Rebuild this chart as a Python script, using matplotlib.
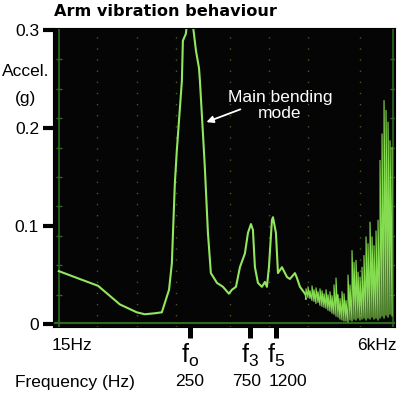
import matplotlib.pyplot as plt
import numpy as np
from matplotlib import transforms
from matplotlib.ticker import NullLocator

plt.rcParams['font.family'] = ['Liberation Sans', 'DejaVu Sans']

# trace: frequency (Hz) vs acceleration (g)
freq_main = [23, 47, 70, 95, 110, 132, 150, 171, 180, 190, 197, 216, 220, 232,
             250, 269, 279, 295, 300, 317, 328, 347, 366, 409, 456, 508, 537,
             578, 621, 680, 719, 759, 787, 816, 862, 927, 979, 1015, 1053,
             1112, 1133, 1196, 1241, 1334, 1462, 1543, 1690, 1753, 1852, 2029]
accel_main = [0.054, 0.039, 0.020, 0.012, 0.010, 0.011, 0.012, 0.035, 0.062,
              0.143, 0.177, 0.248, 0.289, 0.296, 0.330, 0.296, 0.279, 0.261,
              0.248, 0.194, 0.160, 0.093, 0.052, 0.042, 0.038, 0.031, 0.035,
              0.038, 0.058, 0.072, 0.093, 0.102, 0.096, 0.058, 0.042, 0.038,
              0.043, 0.038, 0.058, 0.106, 0.109, 0.093, 0.052, 0.058, 0.048,
              0.046, 0.052, 0.047, 0.038, 0.031]

# high frequency comb (each bin: peak and trough)
freq_hf = [2066, 2143, 2222, 2305, 2390, 2479, 2571, 2666, 2765, 2868, 2974,
           3084, 3199, 3317, 3440, 3568, 3700, 3837, 3980, 4127, 4280, 4439,
           4604, 4775, 4952, 5135, 5326, 5523, 5728, 5940, 6161, 6389, 6626,
           6872, 7127, 7391, 7665, 7950, 8244, 8550, 8867, 9196, 9537, 9891]
accel_hf_peak = [0.036, 0.038, 0.034, 0.039, 0.035, 0.037, 0.033, 0.036, 0.034,
                 0.031, 0.035, 0.030, 0.033, 0.029, 0.040, 0.047, 0.030, 0.026,
                 0.033, 0.031, 0.024, 0.050, 0.040, 0.075, 0.063, 0.065, 0.053,
                 0.048, 0.058, 0.070, 0.089, 0.082, 0.104, 0.089, 0.080, 0.095,
                 0.106, 0.167, 0.194, 0.228, 0.218, 0.206, 0.187, 0.180]
accel_hf_trough = [0.025, 0.027, 0.026, 0.024, 0.023, 0.021, 0.022, 0.019, 0.018,
                   0.017, 0.016, 0.014, 0.013, 0.011, 0.010, 0.008, 0.007, 0.005,
                   0.004, 0.003, 0.003, 0.002, 0.004, 0.003, 0.005, 0.004, 0.006,
                   0.004, 0.005, 0.006, 0.004, 0.006, 0.005, 0.007, 0.005, 0.006,
                   0.004, 0.006, 0.008, 0.006, 0.009, 0.007, 0.010, 0.008]

mode_freqs = [250, 750, 1200]
mode_ticks = [r'f$_\mathregular{o}$', r'f$_\mathregular{3}$', r'f$_\mathregular{5}$']
mode_labels = ['250', '750', '1200']
y_ticks = [0, 0.1, 0.2, 0.3]
y_ticklabels = ['0', '0.1', '0.2', '0.3']
grid_freqs = [46, 95, 193, 515, 1050, 2150, 5500]
div_levels = [0.03, 0.06, 0.09, 0.12, 0.15, 0.18, 0.21, 0.24, 0.27]

trace_green = '#93e660'
frame_green = '#2c6a20'

hf_x = [freq_main[-1]] + list(np.repeat(freq_hf, 2))
hf_y = [accel_main[-1]] + list(np.column_stack([accel_hf_trough, accel_hf_peak]).ravel())

fig = plt.figure(figsize=(4, 3.97), dpi=100)
ax = fig.add_axes([0.1325, 0.1763, 0.855, 0.7532])
ax.set_facecolor('#050505')
ax.set_xscale('log')
ax.set_xlim(20.7, 10440)
ax.set_ylim(-0.003, 0.302)
for s in ax.spines.values():
    s.set_color('black')

# screen frame and graticule
ax.axvline(23, color=frame_green, lw=1.2)
ax.axvline(10060, color=frame_green, lw=1.2)
ax.axhline(0.001, color=frame_green, lw=1.5)
for g in grid_freqs:
    ax.axvline(g, color='#4b5a22', lw=1, ls=(0, (1, 7)))
ax.plot([23] * len(div_levels), div_levels, ls='none', marker='_', ms=5, color=frame_green)
ax.plot([10060] * len(div_levels), div_levels, ls='none', marker='_', ms=5, color=frame_green)

ax.plot(freq_main, accel_main, color=trace_green, lw=1.5)
ax.plot(hf_x, hf_y, color='#86dc50', lw=0.8)

ax.set_yticks(y_ticks)
ax.set_yticklabels(y_ticklabels)
ax.tick_params(axis='y', length=7, width=3, color='black', labelsize=12.5, pad=3)
ax.set_xticks(mode_freqs)
ax.set_xticklabels(mode_ticks)
ax.xaxis.set_minor_locator(NullLocator())
ax.tick_params(axis='x', length=8, width=3.6, color='black', labelsize=18, pad=3)

ax.annotate('', xy=(322, 0.205), xytext=(656, 0.22),
            arrowprops=dict(arrowstyle='-|>', color='white', lw=1.3, mutation_scale=10))
ax.text(1287, 0.223, 'Main bending\nmode', color='white', fontsize=12.5,
        ha='center', va='center', linespacing=1.15)

fig.text(54 / 400, 1 - 12 / 397, 'Arm vibration behaviour', fontsize=11.6,
         fontweight='heavy', family='DejaVu Sans', ha='left', va='center')
fig.text(26 / 400, 1 - 71 / 397, 'Accel.', fontsize=12.5, ha='center', va='center')
fig.text(25 / 400, 1 - 98 / 397, '(g)', fontsize=12.5, ha='center', va='center')
fig.text(72 / 400, 1 - 345 / 397, '15Hz', fontsize=12.5, ha='center', va='center')
fig.text(377 / 400, 1 - 345 / 397, '6kHz', fontsize=12.5, ha='center', va='center')
fig.text(15 / 400, 1 - 382 / 397, 'Frequency (Hz)', fontsize=12.5, ha='left', va='center')

trans = transforms.blended_transform_factory(ax.transData, fig.transFigure)
for f, lbl, dx in zip(mode_freqs, mode_labels, [0, -4, 12]):
    ax.annotate(lbl, xy=(f, 1 - 382 / 397), xycoords=trans, xytext=(dx, 0),
                textcoords='offset pixels', fontsize=12.5, ha='center', va='center',
                annotation_clip=False)

fig.savefig('out.png', dpi=100)
